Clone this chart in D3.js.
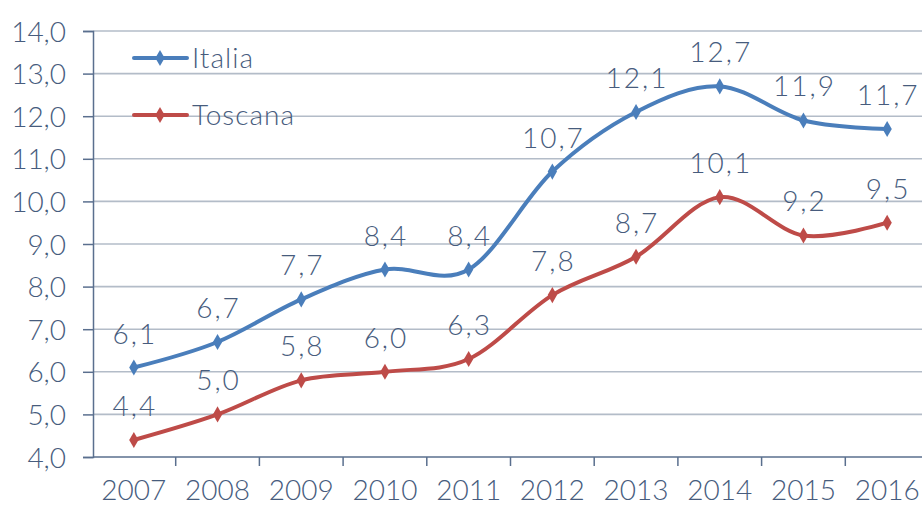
<!DOCTYPE html>
<html><head><meta charset="utf-8">
<script src="https://cdn.jsdelivr.net/npm/d3@7"></script>
<style>
body{margin:0;background:#fff;}
text{font-family:"Lato","Open Sans",sans-serif;font-weight:300;fill:#475C7D;}
</style></head><body>
<svg id="c" width="922" height="505"></svg>
<script>
const years = ["2007","2008","2009","2010","2011","2012","2013","2014","2015","2016"];
const italia = [6.1,6.7,7.7,8.4,8.4,10.7,12.1,12.7,11.9,11.7];
const toscana = [4.4,5.0,5.8,6.0,6.3,7.8,8.7,10.1,9.2,9.5];
const yTicks = [4,5,6,7,8,9,10,11,12,13,14];
const seriesNames = ["Italia","Toscana"];
const colors = ["#4A7EBB","#BE4B48"];

const svg = d3.select("#c");
const x = d3.scaleBand().domain(years).range([92, 929]);
const y = d3.scaleLinear().domain([4,14]).range([457, 31]);
const fmt = v => d3.format(".1f")(v).replace(".", ",");

// gridlines
svg.append("g").selectAll("line").data(yTicks.slice(1)).join("line")
  .attr("x1",93).attr("x2",922).attr("y1",d=>y(d)).attr("y2",d=>y(d))
  .attr("stroke","#B3BCC8").attr("stroke-width",1.6);

// y axis
const ya = svg.append("g").attr("transform","translate(93,0)")
  .call(d3.axisLeft(y).tickValues(yTicks).tickFormat(fmt).tickSize(10).tickPadding(17));
ya.select(".domain").attr("stroke","#5A6F8E").attr("stroke-width",1.5);
ya.selectAll(".tick line").attr("stroke","#5A6F8E").attr("stroke-width",1.5);
ya.selectAll("text").style("font-size","28px").attr("fill","#475C7D").attr("dy","0.36em");

// x axis
const xa = svg.append("g").attr("transform","translate(0,457)");
xa.append("line").attr("x1",93).attr("x2",922).attr("stroke","#5A6F8E").attr("stroke-width",1.5);
xa.selectAll("line.t").data(years.slice(1)).join("line").attr("class","t")
  .attr("x1",d=>x(d)).attr("x2",d=>x(d)).attr("y1",0).attr("y2",9)
  .attr("stroke","#5A6F8E").attr("stroke-width",1.5);
xa.selectAll("text").data(years).join("text")
  .attr("x",d=>x(d)+x.bandwidth()/2).attr("y",43).attr("text-anchor","middle")
  .style("font-size","28px").text(d=>d);

const line = d3.line().x((d,i)=>x(years[i])+x.bandwidth()/2).y(d=>y(d))
  .curve(d3.curveCardinal.tension(0));

[italia, toscana].forEach((vals, si) => {
  const g = svg.append("g");
  g.append("path").datum(vals).attr("d", line).attr("fill","none")
    .attr("stroke", colors[si]).attr("stroke-width",4).attr("stroke-linejoin","round");
  g.selectAll("path.m").data(vals).join("path").attr("class","m")
    .attr("d", d3.symbol(d3.symbolDiamond, 75))
    .attr("transform",(d,i)=>`translate(${x(years[i])+x.bandwidth()/2},${y(d)})`)
    .attr("fill", colors[si]);
  g.selectAll("text").data(vals).join("text")
    .attr("x",(d,i)=>x(years[i])+x.bandwidth()/2+1)
    .attr("y",d=>y(d)-24).attr("text-anchor","middle")
    .style("font-size","28px").style("letter-spacing","2px").text(d=>fmt(d));
});

// legend
const lg = svg.append("g");
seriesNames.forEach((n, i) => {
  const yy = 58 + i*57;
  lg.append("line").attr("x1",134).attr("x2",187).attr("y1",yy).attr("y2",yy)
    .attr("stroke",colors[i]).attr("stroke-width",4).attr("stroke-linecap","round");
  lg.append("path").attr("d", d3.symbol(d3.symbolDiamond, 75))
    .attr("transform",`translate(160,${yy})`).attr("fill",colors[i]);
  lg.append("text").attr("x",192).attr("y",yy+10).style("font-size","28px")
    .style("letter-spacing","1px").text(n);
});
</script></body></html>
